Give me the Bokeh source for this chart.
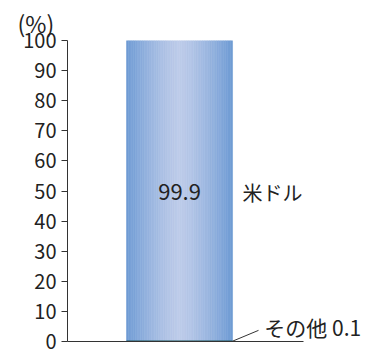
from bokeh.plotting import figure
from bokeh.models import Range1d, Label, FixedTicker
from bokeh.embed import file_html
from bokeh.resources import INLINE

categories = ["その他", "米ドル"]
values = [0.1, 99.9]
value_labels = ["0.1", "99.9"]
y_ticks = [0, 10, 20, 30, 40, 50, 60, 70, 80, 90, 100]
unit_label = "(%)"

FONT = "Noto Sans CJK JP"
TEXT = "#222222"

x0 = -1.057
p = figure(width=377, height=352, output_backend="svg", toolbar_location=None,
           x_range=Range1d(x0, x0 + 310 / 106), y_range=Range1d(0, 100),
           min_border_left=67, min_border_right=0, min_border_top=40, min_border_bottom=11,
           title=unit_label)
p.outline_line_color = None
p.grid.grid_line_color = None
p.background_fill_color = None
p.border_fill_color = "white"

p.title.text_font = FONT
p.title.text_font_size = "23px"
p.title.text_font_style = "normal"
p.title.text_color = TEXT
p.title.align = "left"
p.title.offset = -50
p.title.standoff = 2

# y axis
ya = p.yaxis[0]
ya.ticker = FixedTicker(ticks=y_ticks)
ya.major_tick_out = 6
ya.major_tick_in = 0
ya.minor_tick_line_color = None
ya.axis_line_color = "#333333"
ya.major_tick_line_color = "#333333"
ya.major_label_text_font = FONT
ya.major_label_text_font_size = "20px"
ya.major_label_text_color = TEXT
ya.major_label_standoff = 5

xa = p.xaxis[0]
xa.major_tick_line_color = None
xa.minor_tick_line_color = None
xa.major_label_text_font_size = "0px"
xa.axis_line_color = "#333333"
xa.bounds = (x0, x0 + 236 / 106)

# stacked bar: bottom segment (その他), then gradient bar (米ドル)
bar_x = 0.0
bar_w = 1.0
top_other = values[0]
top_usd = values[0] + values[1]

n = 60
edge = (0x6e, 0x9b, 0xd4)
mid = (0xbd, 0xcb, 0xe9)
lefts, rights, cols = [], [], []
for i in range(n):
    t = (i + 0.5) / n
    d = abs(t - 0.5) * 2
    w = d ** 1.3
    c = tuple(int(round(mid[k] + (edge[k] - mid[k]) * w)) for k in range(3))
    lefts.append(bar_x - bar_w / 2 + i * bar_w / n)
    rights.append(bar_x - bar_w / 2 + (i + 1) * bar_w / n)
    cols.append("#%02x%02x%02x" % c)
p.quad(left=lefts, right=rights, bottom=[top_other] * n, top=[top_usd] * n,
       fill_color=cols, line_color=cols, line_width=0.6)
p.vbar(x=[bar_x], width=bar_w, bottom=[0], top=[top_other + 0.25],
       fill_color="#1f5a5a", line_color=None)

# labels
p.add_layout(Label(x=bar_x, y=49.6, text=value_labels[1], text_align="center",
                   text_baseline="middle", text_font=FONT, text_font_size="22px",
                   text_color=TEXT))
p.add_layout(Label(x=0.594, y=49.6, text=categories[1], text_align="left",
                   text_baseline="middle", text_font=FONT, text_font_size="20px",
                   text_color=TEXT))
p.add_layout(Label(x=0.80, y=4.9, text=categories[0] + " " + value_labels[0],
                   text_align="left", text_baseline="middle", text_font=FONT,
                   text_font_size="21px", text_color=TEXT))
p.segment(x0=[bar_x + bar_w / 2], y0=[top_other], x1=[0.745], y1=[3.7],
          line_color="#333333", line_width=1)

open("out.html", "w").write(file_html(p, INLINE))
